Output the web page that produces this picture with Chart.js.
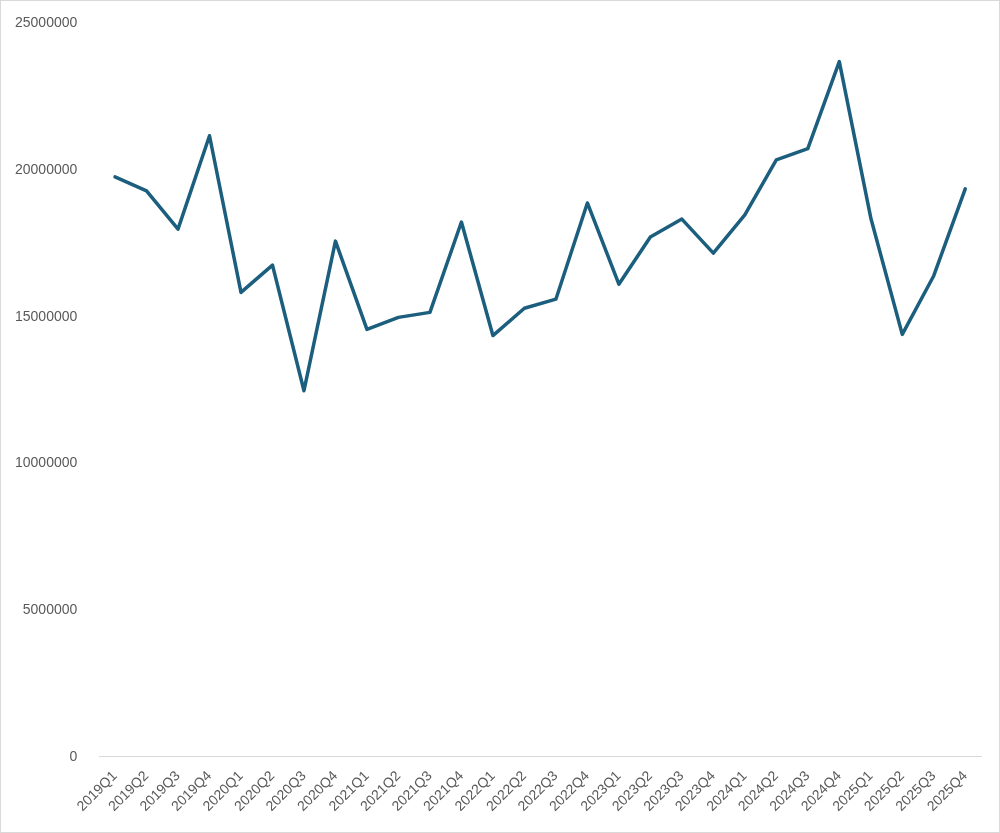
<!DOCTYPE html>
<html>
<head>
<meta charset="utf-8">
<script src="https://cdn.jsdelivr.net/npm/chart.js"></script>
<style>
  html, body { margin: 0; padding: 0; background: #fff; }
  #wrap { width: 998px; height: 831px; border: 1px solid #d9d9d9; }
</style>
</head>
<body>
<div id="wrap"><canvas id="chart" width="998" height="831"></canvas></div>
<script>
var quarters = ['2019Q1','2019Q2','2019Q3','2019Q4','2020Q1','2020Q2','2020Q3','2020Q4',
  '2021Q1','2021Q2','2021Q3','2021Q4','2022Q1','2022Q2','2022Q3','2022Q4',
  '2023Q1','2023Q2','2023Q3','2023Q4','2024Q1','2024Q2','2024Q3','2024Q4',
  '2025Q1','2025Q2','2025Q3','2025Q4'];
var values = [19770000, 19290000, 17990000, 21170000, 15830000, 16760000, 12480000, 17580000,
  14570000, 14980000, 15150000, 18230000, 14360000, 15290000, 15600000, 18880000,
  16110000, 17720000, 18330000, 17170000, 18470000, 20350000, 20730000, 23700000,
  18370000, 14400000, 16400000, 19360000];

var ctx = document.getElementById('chart').getContext('2d');
new Chart(ctx, {
  type: 'line',
  data: {
    labels: quarters,
    datasets: [{
      data: values,
      borderColor: '#1b5e7e',
      borderWidth: 3.5,
      borderJoinStyle: 'round',
      borderCapStyle: 'round',
      pointRadius: 0,
      tension: 0,
      fill: false
    }]
  },
  options: {
    responsive: false,
    animation: false,
    layout: { padding: { top: 12, right: 18, left: 0, bottom: 14 } },
    plugins: { legend: { display: false }, tooltip: { enabled: false } },
    scales: {
      x: {
        offset: true,
        grid: { display: false },
        border: { color: '#d9d9d9' },
        ticks: { color: '#595959', font: { family: 'Liberation Sans', size: 14 }, maxRotation: 45, minRotation: 45, autoSkip: false }
      },
      y: {
        min: 0, max: 25000000,
        grid: { display: false },
        border: { display: false },
        ticks: { stepSize: 5000000, color: '#595959', padding: 14, font: { family: 'Liberation Sans', size: 14 },
          callback: function (v) { return String(v); } }
      }
    }
  }
});
</script>
</body>
</html>
